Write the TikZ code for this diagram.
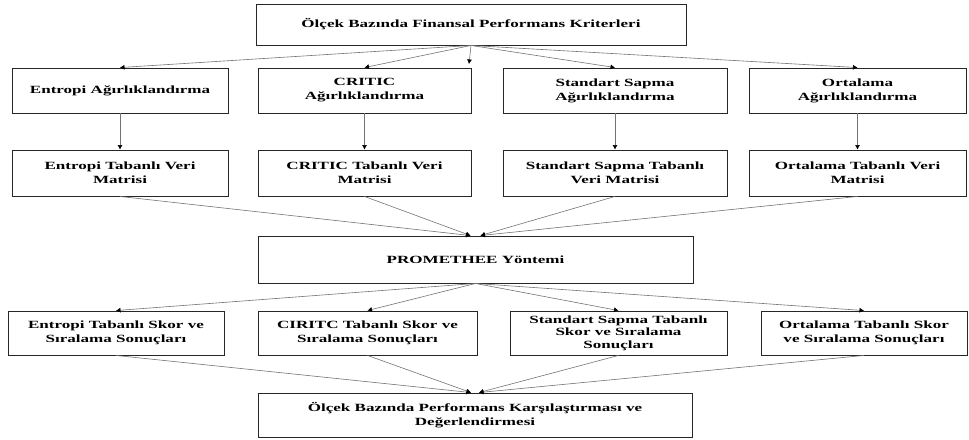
\documentclass[tikz,border=0pt]{standalone}
\usepackage{fontspec}
\setmainfont{Liberation Serif}[FakeStretch=1.55]
\usepackage{tikz}
\usetikzlibrary{arrows.meta}

\begin{document}
\begin{tikzpicture}[>={Latex[black,length=4.5pt,width=5pt]}, x=1pt, y=-1pt,
    box/.style={shape=rectangle, draw=black!85, line width=0.9pt, inner sep=0pt,
                align=center, minimum height=45,
                font=\fontsize{11}{14}\selectfont\bfseries},
    link/.style={->, draw=black!55, line width=0.6pt}]

  \useasboundingbox (0,0) rectangle (969,439);

  \node (krit) at (471,24.5) [box, minimum width=430, minimum height=41] {Ölçek Bazında Finansal Performans Kriterleri};

  \node (ent) at (120,90.5) [box, minimum width=216] {Entropi Ağırlıklandırma};
  \node (crt) at (364.5,90.5) [box, minimum width=213] {CRITIC\\Ağırlıklandırma};
  \node (ss) at (615,90.5) [box, minimum width=224] {Standart Sapma\\Ağırlıklandırma};
  \node (ort) at (857.5,90.5) [box, minimum width=217] {Ortalama\\Ağırlıklandırma};

  \node (entm) at (120,173) [box, minimum width=216, minimum height=46] {Entropi Tabanlı Veri\\Matrisi};
  \node (crtm) at (364.5,173) [box, minimum width=213, minimum height=46] {CRITIC Tabanlı Veri\\Matrisi};
  \node (ssm) at (615,173) [box, minimum width=224, minimum height=46] {Standart Sapma Tabanlı\\Veri Matrisi};
  \node (ortm) at (857.5,173) [box, minimum width=217, minimum height=46] {Ortalama Tabanlı Veri\\Matrisi};

  \node (prom) at (475.5,259.5) [box, minimum width=435, minimum height=47] {PROMETHEE Yöntemi};

  \node (ents) at (116,333) [box, minimum width=216, minimum height=44] {Entropi Tabanlı Skor ve\\Sıralama Sonuçları};
  \node (crts) at (367.5,333) [box, minimum width=219, minimum height=44] {CIRITC Tabanlı Skor ve\\Sıralama Sonuçları};
  \node (sss) at (618.5,333) [box, minimum width=217, minimum height=44,
                             font=\fontsize{11}{12.5}\selectfont\bfseries] {Standart Sapma Tabanlı\\Skor ve Sıralama\\Sonuçları};
  \node (orts) at (864,333) [box, minimum width=206, minimum height=44] {Ortalama Tabanlı Skor\\ve Sıralama Sonuçları};

  \node (deg) at (475,415) [box, minimum width=434, minimum height=44] {Ölçek Bazında Performans Karşılaştırması ve\\Değerlendirmesi};

  \coordinate (dn) at (469,64);

  \draw [link] (krit.south) -- (ent.north);
  \draw [link] (krit.south) -- (crt.north);
  \draw [link] (krit.south) -- (dn);
  \draw [link] (krit.south) -- (ss.north);
  \draw [link] (krit.south) -- (ort.north);

  \draw [link] (ent) -- (entm);
  \draw [link] (crt) -- (crtm);
  \draw [link] (ss) -- (ssm);
  \draw [link] (ort) -- (ortm);

  \draw [link] (entm.south) -- ([xshift=-5pt]prom.north);
  \draw [link] (crtm.south) -- ([xshift=-5pt]prom.north);
  \draw [link] (ssm.south) -- ([xshift=5pt]prom.north);
  \draw [link] (ortm.south) -- ([xshift=5pt]prom.north);

  \draw [link] (prom.south) -- (ents.north);
  \draw [link] (prom.south) -- (crts.north);
  \draw [link] (prom.south) -- (sss.north);
  \draw [link] (prom.south) -- (orts.north);

  \draw [link] (ents.south) -- ([xshift=-4pt]deg.north);
  \draw [link] (crts.south) -- ([xshift=-4pt]deg.north);
  \draw [link] (sss.south) -- ([xshift=4pt]deg.north);
  \draw [link] (orts.south) -- ([xshift=4pt]deg.north);
\end{tikzpicture}
\end{document}
